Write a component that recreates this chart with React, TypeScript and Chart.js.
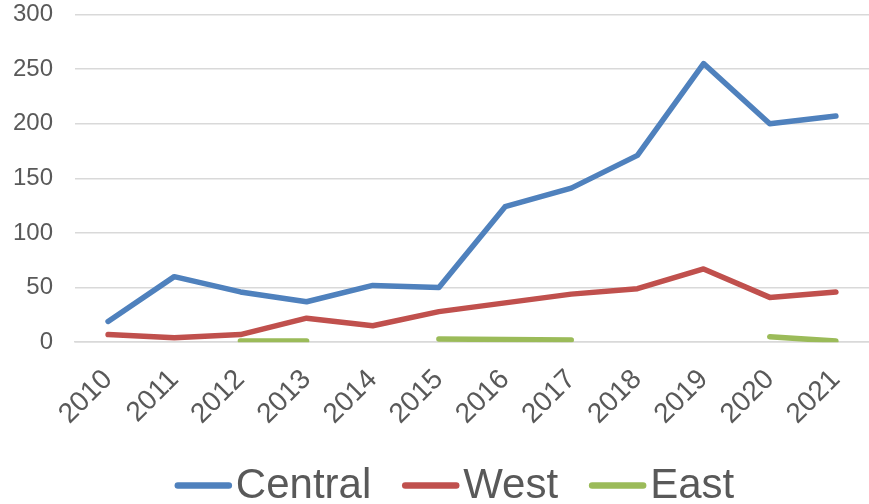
import React, { useEffect, useRef } from "react";
import { Chart, registerables } from "chart.js";

Chart.register(...registerables);

const years = ["2010","2011","2012","2013","2014","2015","2016","2017","2018","2019","2020","2021"];
const central = [19, 60, 46, 37, 52, 50, 124, 141, 171, 255, 200, 207];
const west = [7, 4, 7, 22, 15, 28, 36, 44, 49, 67, 41, 46];
const east = [null, null, 1, 1, null, 3, 2.5, 2, null, null, 5, 1];

const FONT = "'Liberation Sans', Arial, sans-serif";
const TEXT = "#595959";

const legendPlugin = {
  id: "bottomLegend",
  afterDraw(chart: any) {
    const ctx = chart.ctx as CanvasRenderingContext2D;
    ctx.save();
    ctx.font = `42px ${FONT}`;
    const lineLen = 57;
    const gapText = 4;
    const gapItem = 31;
    const items = chart.data.datasets.map((d: any) => ({
      label: d.label as string,
      color: d.borderColor as string,
      w: ctx.measureText(d.label).width,
    }));
    const total =
      items.reduce((s: number, it: any) => s + lineLen + gapText + it.w, 0) +
      gapItem * (items.length - 1);
    let x = chart.width / 2 + 20 - total / 2;
    const lineY = 485.5;
    const baseY = 498;
    for (const it of items) {
      ctx.strokeStyle = it.color;
      ctx.lineWidth = 6.5;
      ctx.lineCap = "round";
      ctx.beginPath();
      ctx.moveTo(x + 3, lineY);
      ctx.lineTo(x + lineLen - 3, lineY);
      ctx.stroke();
      ctx.fillStyle = TEXT;
      ctx.textAlign = "left";
      ctx.textBaseline = "alphabetic";
      ctx.fillText(it.label, x + lineLen + gapText, baseY);
      x += lineLen + gapText + it.w + gapItem;
    }
    ctx.restore();
  },
};

export default function App() {
  const ref = useRef<HTMLCanvasElement>(null);
  useEffect(() => {
    document.body.style.margin = "0";
    const ds = (label: string, data: (number | null)[], color: string) => ({
      label,
      data,
      borderColor: color,
      backgroundColor: color,
      borderWidth: 5.5,
      pointRadius: 0,
      pointHoverRadius: 0,
      borderCapStyle: "round" as const,
      borderJoinStyle: "round" as const,
      tension: 0,
      spanGaps: false,
    });
    const chart = new Chart(ref.current!, {
      type: "line",
      data: {
        labels: years,
        datasets: [
          ds("Central", central, "#4F81BD"),
          ds("West", west, "#C0504D"),
          ds("East", east, "#9BBB59"),
        ],
      },
      plugins: [legendPlugin],
      options: {
        animation: false,
        responsive: true,
        maintainAspectRatio: false,
        layout: { padding: { top: 1, right: 0, left: 0, bottom: 73 } },
        plugins: {
          tooltip: { enabled: false },
          legend: { display: false },
        },
        scales: {
          x: {
            offset: true,
            grid: {
              display: true,
              color: "rgba(0,0,0,0)",
              drawTicks: true,
              tickLength: 21,
              tickColor: "rgba(0,0,0,0)",
            },
            border: { display: true, color: "#d9d9d9", width: 1.5 },
            ticks: {
              font: { family: FONT, size: 28 },
              color: TEXT,
              maxRotation: 45,
              minRotation: 45,
              autoSkip: false,
              padding: 0,
            },
          },
          y: {
            min: 0,
            max: 300,
            afterFit: (axis: any) => {
              axis.width = 75;
            },
            grid: {
              color: "#d9d9d9",
              lineWidth: 1.5,
              drawTicks: true,
              tickLength: 22,
              tickColor: "rgba(0,0,0,0)",
            },
            border: { display: false },
            ticks: {
              stepSize: 50,
              font: { family: FONT, size: 24 },
              color: TEXT,
              padding: 0,
            },
          },
        },
      },
    });
    return () => chart.destroy();
  }, []);
  return (
    <div style={{ width: 869, height: 504, position: "relative" }}>
      <canvas ref={ref} />
    </div>
  );
}
